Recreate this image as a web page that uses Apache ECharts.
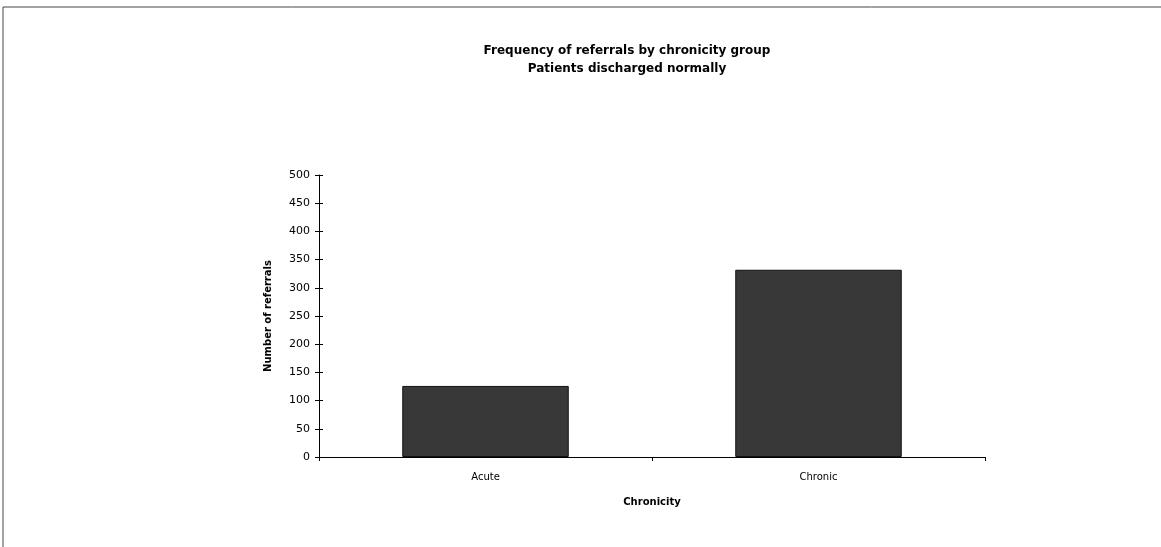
<!DOCTYPE html>
<html><head><meta charset="utf-8">
<script src="https://cdn.jsdelivr.net/npm/echarts@6/dist/echarts.min.js"></script>
<style>html,body{margin:0;padding:0;background:#fff}#c{width:1161px;height:547px}</style>
</head><body><div id="c"></div>
<script>
const categories = ['Acute', 'Chronic'];
const referrals = [126, 332];
const titleText = 'Frequency of referrals by chronicity group\nPatients discharged normally';
const yAxisName = 'Number of referrals';
const xAxisName = 'Chronicity';

const chart = echarts.init(document.getElementById('c'));
const font = 'DejaVu Sans';
chart.setOption({
  animation: false,
  backgroundColor: '#fff',
  title: {
    text: titleText, left: 622, top: 37, textAlign: 'center',
    textStyle: {fontFamily: font, fontSize: 12, fontWeight: 'bold', color: '#000', lineHeight: 18}
  },
  graphic: [
    {type: 'line', shape: {x1: 3, y1: 7, x2: 1161, y2: 7}, style: {stroke: '#444', lineWidth: 1}},
    {type: 'line', shape: {x1: 3, y1: 7, x2: 3, y2: 547}, style: {stroke: '#444', lineWidth: 1}}
  ],
  grid: {left: 319, right: 176, top: 175, bottom: 90},
  xAxis: {
    type: 'category', data: categories,
    name: xAxisName, nameLocation: 'middle', nameGap: 40,
    nameTextStyle: {fontFamily: font, fontSize: 10, fontWeight: 'bold', color: '#000'},
    axisLine: {lineStyle: {color: '#000', width: 1}},
    axisTick: {show: true, length: 4, inside: false, lineStyle: {color: '#000'}},
    axisLabel: {fontFamily: font, fontSize: 10, color: '#000', margin: 15}
  },
  yAxis: [{
    type: 'value', min: 0, max: 500, interval: 50,
    name: yAxisName, nameLocation: 'middle', nameGap: 46, nameRotate: 90,
    nameTextStyle: {fontFamily: font, fontSize: 10, fontWeight: 'bold', color: '#000'},
    axisLine: {show: true, lineStyle: {color: '#000', width: 1}},
    axisTick: {show: true, length: 4, lineStyle: {color: '#000'}},
    axisLabel: {fontFamily: font, fontSize: 11, color: '#000', margin: 9},
    splitLine: {show: false}
  }, {
    type: 'value', min: 0, max: 500, interval: 50, position: 'left',
    axisLine: {show: false},
    axisTick: {show: true, inside: true, length: 4, lineStyle: {color: '#000'}},
    axisLabel: {show: false}, splitLine: {show: false}
  }],
  series: [{
    type: 'bar', data: referrals, barWidth: '50%',
    itemStyle: {color: '#383838', borderColor: '#111', borderWidth: 1}
  }]
});
</script></body></html>
